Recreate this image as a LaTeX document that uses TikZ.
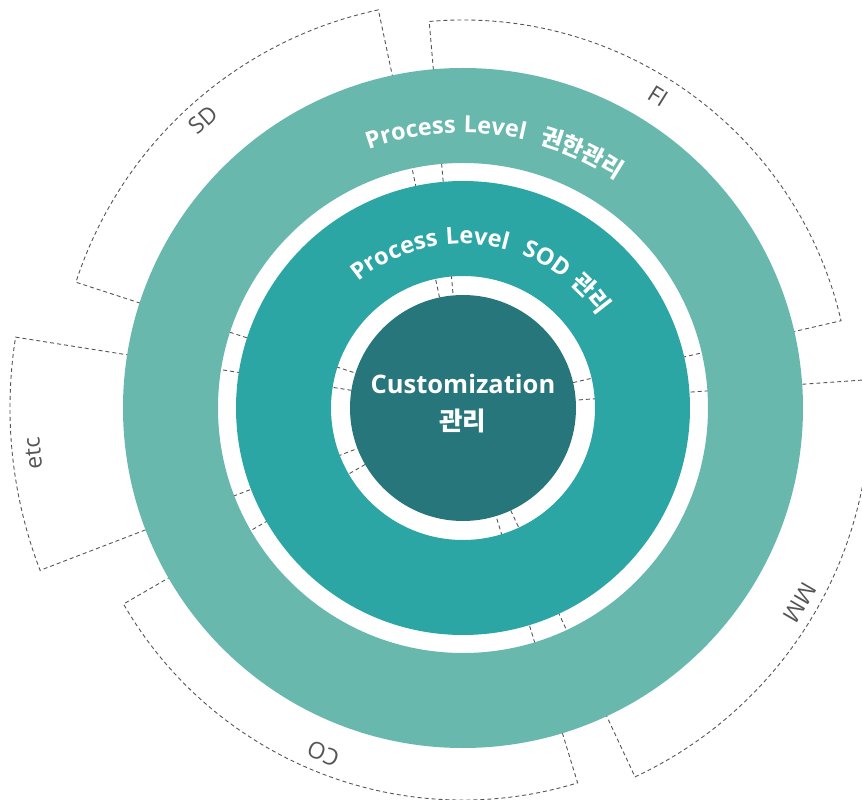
\documentclass[tikz,border=0pt]{standalone}
\usepackage{fontspec}
\setmainfont{Open Sans}
\setsansfont{Open Sans}
\newfontfamily\krfont{Noto Sans CJK KR}
\newfontfamily\ringfont{Open Sans}[LetterSpace=6]
\usetikzlibrary{decorations.text}

\definecolor{ringout}{HTML}{69B8AD}
\definecolor{ringmid}{HTML}{2CA5A5}
\definecolor{corein}{HTML}{27767C}
\definecolor{linegrey}{HTML}{555555}

\tikzset{
  sector/.style={draw=linegrey, line width=0.9pt, dash pattern=on 4pt off 3pt},
  sectorlabel/.style={text=linegrey, inner sep=0pt, font=\fontsize{23}{26}\selectfont},
}

\begin{document}
\begin{tikzpicture}[x=1pt, y=1pt]

\def\rcore{113}; % core disk
\def\rgapa{132}; % inner edge of middle ring
\def\rmid{227}; % outer edge of middle ring
\def\rgapb{245}; % inner edge of outer ring
\def\rout{340}; % outer edge of outer ring

\useasboundingbox (-463,-392) rectangle (399,408);
\clip (-463,-392) rectangle (399,408);

% module sectors
\draw[sector] (13:\rcore) -- (13:388) arc[start angle=13, end angle=95, radius=388] -- (95:\rcore);
\draw[sector] (102:\rcore) -- (102:407) arc[start angle=102, end angle=162, radius=407] -- (162:\rcore);
\draw[sector] (171:\rcore) -- (171:453) arc[start angle=171, end angle=201, radius=453] -- (201:\rcore);
\draw[sector] (210:\rcore) -- (210:392) arc[start angle=210, end angle=287, radius=392] -- (287:\rcore);
\draw[sector] (295:\rcore) -- (295:407) arc[start angle=295, end angle=364, radius=407] -- (364:\rcore);

\node[sectorlabel, rotate=-32] (fi) at (58:368) {FI};
\node[sectorlabel, rotate=42] (sd) at (132:388) {SD};
\node[sectorlabel, rotate=96] (etc) at (186:432) {etc};
\node[sectorlabel, rotate=158] (co) at (248:373) {CO};
\node[sectorlabel, rotate=-120] (mm) at (330:389) {MM};

% rings
\fill[ringout, even odd rule] (0,0) circle (\rout) (0,0) circle (\rgapb);
\fill[ringmid, even odd rule] (0,0) circle (\rmid) (0,0) circle (\rgapa);
\fill[corein] (0,0) circle (\rcore);

\path[decorate, decoration={text along path, text align=center, text color=white,
  text={|\ringfont\fontsize{23.5}{26}\selectfont\bfseries|Process Level{\ \ }|\krfont\fontsize{23.5}{26}\selectfont\bfseries|권한관리}}]
  (153:275) arc[start angle=153, end angle=13, radius=275];
\path[decorate, decoration={text along path, text align=center, text color=white,
  text={|\ringfont\fontsize{23.5}{26}\selectfont\bfseries|Process Level{\ \ }SOD |\krfont\fontsize{23.5}{26}\selectfont\bfseries|관리}}]
  (172:164) arc[start angle=172, end angle=-8, radius=164];

\node[align=center, text=white, font=\fontsize{25.5}{37}\selectfont\bfseries] (core) at (0,4)
  {Customization\\{\krfont\bfseries 관리}};

\end{tikzpicture}
\end{document}
